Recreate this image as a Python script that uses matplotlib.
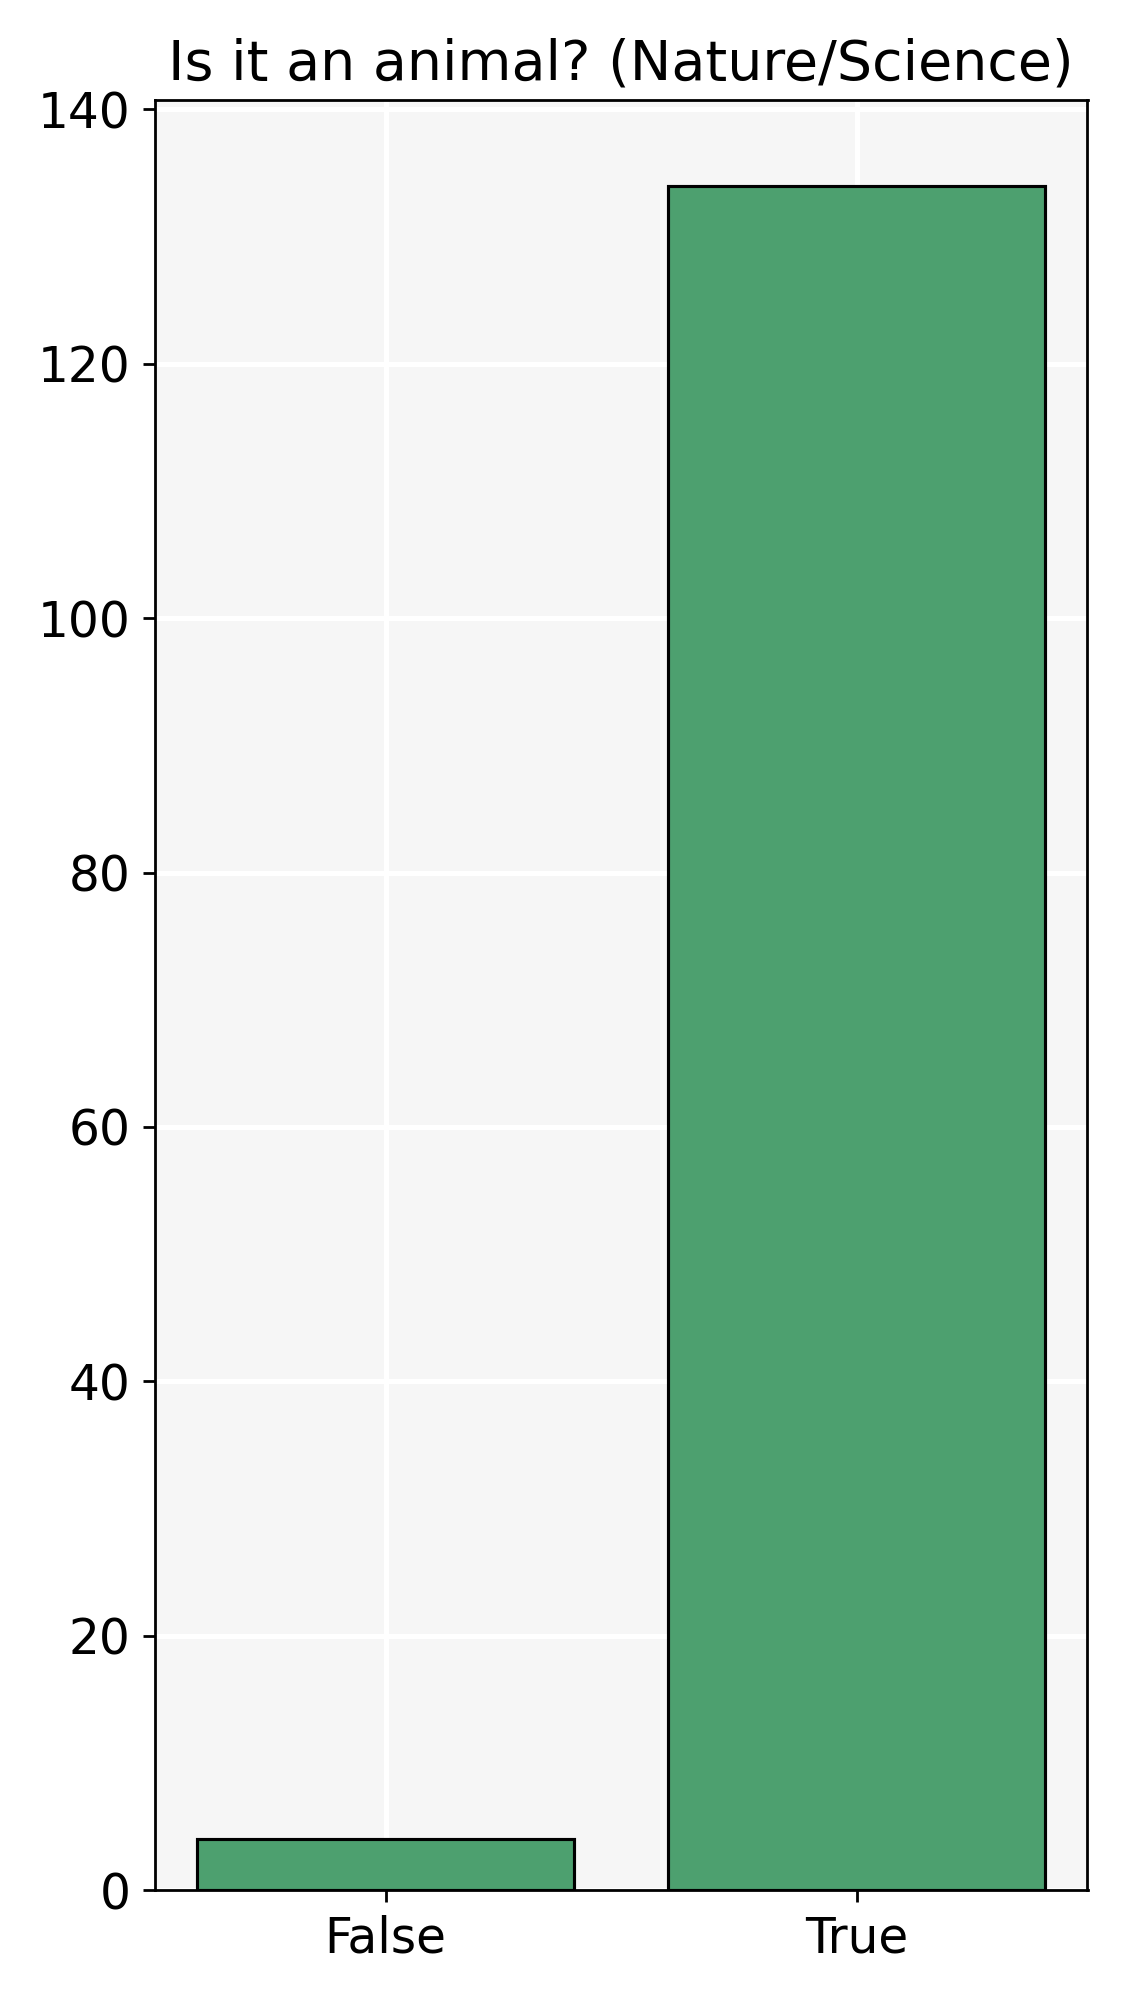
import matplotlib.pyplot as plt

categories = ["False", "True"]
counts = [4, 134]

fig, ax = plt.subplots(figsize=(4.5, 8), dpi=250)
ax.set_facecolor("#f6f6f6")
ax.set_axisbelow(True)
ax.grid(True, color="white", linewidth=1.5)
ax.bar(categories, counts, width=0.8, color="#4da06f", edgecolor="black", linewidth=0.9)
ax.set_title("Is it an animal? (Nature/Science)", fontsize=16)
ax.tick_params(labelsize=14)
fig.tight_layout()
fig.savefig("out.png", dpi=250)
